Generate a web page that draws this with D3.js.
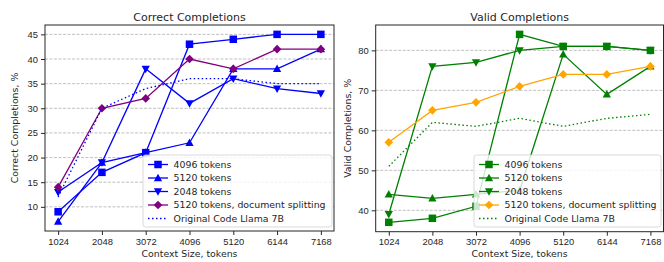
<!DOCTYPE html>
<html>
<head>
<meta charset="utf-8">
<script src="https://cdn.jsdelivr.net/npm/d3@7"></script>
<style>
  body { margin: 0; background: #fff; }
  svg { font-family: "DejaVu Sans", sans-serif; }
  .tick text { font-size: 9.4px; fill: #262626; }
  .tick line { stroke: #262626; }
</style>
</head>
<body>
<div id="chart"></div>
<script>
(function(){

  var contexts = [1024, 2048, 3072, 4096, 5120, 6144, 7168];
  var seriesNames = ['4096 tokens', '5120 tokens', '2048 tokens', '5120 tokens, document splitting', 'Original Code Llama 7B'];

  // Correct completions, %
  var correct4096 = [9, 17, 21, 43, 44, 45, 45];
  var correct5120 = [7, 19, 21, 23, 38, 38, 42];
  var correct2048 = [13, 19, 38, 31, 36, 34, 33];
  var correctSplit = [14, 30, 32, 40, 38, 42, 42];
  var correctOrig = [12, 30, 34, 36, 36, 35, 35];
  var correctTicks = [10, 15, 20, 25, 30, 35, 40, 45];

  // Valid completions, %
  var valid4096 = [37, 38, 41, 84, 81, 81, 80];
  var valid5120 = [44, 43, 44, 45, 79, 69, 76];
  var valid2048 = [39, 76, 77, 80, 81, 81, 80];
  var validSplit = [57, 65, 67, 71, 74, 74, 76];
  var validOrig = [51, 62, 61, 63, 61, 63, 64];
  var validTicks = [40, 50, 60, 70, 80];

  var svg = d3.select('#chart')
    .append('svg')
    .attr('width', 664)
    .attr('height', 262);

  function markerPath(type, s) {
    var h = s / 2;
    if (type === 'square') return 'M' + (-h) + ',' + (-h) + 'h' + s + 'v' + s + 'h' + (-s) + 'Z';
    if (type === 'up') return 'M0,' + (-h * 1.15) + 'L' + (h * 1.1) + ',' + (h * 0.85) + 'L' + (-h * 1.1) + ',' + (h * 0.85) + 'Z';
    if (type === 'down') return 'M0,' + (h * 1.15) + 'L' + (h * 1.1) + ',' + (-h * 0.85) + 'L' + (-h * 1.1) + ',' + (-h * 0.85) + 'Z';
    if (type === 'diamond') return 'M0,' + (-h * 1.15) + 'L' + (h * 1.15) + ',0L0,' + (h * 1.15) + 'L' + (-h * 1.15) + ',0Z';
    return '';
  }

  function panel(opts) {
    var x = d3.scaleLinear().domain([716.8, 7475.2]).range([opts.left, opts.right]);
    var y = d3.scaleLinear().domain(opts.yDomain).range([opts.bottom, 25]);
    var g = svg.append('g');

    // grid
    g.selectAll('line.grid')
      .data(opts.yTicks)
      .enter()
      .append('line')
      .attr('x1', opts.left)
      .attr('x2', opts.right)
      .attr('y1', function(d) {return y(d);})
      .attr('y2', function(d) {return y(d);})
      .attr('stroke', '#b0b0b0')
      .attr('stroke-width', 0.8)
      .attr('stroke-dasharray', '3,1.5');

    var line = d3.line()
      .x(function(d, i) {return x(contexts[i]);})
      .y(function(d) {return y(d);});

    opts.series.forEach(function(s) {
      g.append('path')
        .datum(s.values)
        .attr('d', line)
        .attr('fill', 'none')
        .attr('stroke', s.color)
        .attr('stroke-width', 1.3)
        .attr('stroke-dasharray', s.dotted ? '1.5,2.5' : null);
      if (s.marker) {
        g.selectAll(null)
          .data(s.values)
          .enter()
          .append('path')
          .attr('transform', function(d, i) {return 'translate(' + x(contexts[i]) + ',' + y(d) + ')';})
          .attr('d', markerPath(s.marker, 7.5))
          .attr('fill', s.color);
      }
    });

    // axes
    g.append('g')
      .attr('transform', 'translate(0,' + opts.bottom + ')')
      .call(d3.axisBottom(x).tickValues(contexts).tickSize(4).tickPadding(3).tickFormat(d3.format('d')))
      .call(function(a) {a.select('.domain').remove();});
    g.append('g')
      .attr('transform', 'translate(' + opts.left + ',0)')
      .call(d3.axisLeft(y).tickValues(opts.yTicks).tickSize(4).tickPadding(3))
      .call(function(a) {a.select('.domain').remove();});

    g.append('rect')
      .attr('x', opts.left)
      .attr('y', 25)
      .attr('width', opts.right - opts.left)
      .attr('height', opts.bottom - 25)
      .attr('fill', 'none')
      .attr('stroke', '#262626')
      .attr('stroke-width', 1);

    g.append('text')
      .attr('x', (opts.left + opts.right) / 2)
      .attr('y', 20.5)
      .attr('text-anchor', 'middle')
      .attr('font-size', 11)
      .attr('fill', '#262626')
      .text(opts.title);

    g.append('text')
      .attr('x', (opts.left + opts.right) / 2)
      .attr('y', 257)
      .attr('text-anchor', 'middle')
      .attr('font-size', 9.4)
      .attr('fill', '#262626')
      .text('Context Size, tokens');

    g.append('text')
      .attr('transform', 'translate(' + opts.yLabelX + ',' + ((25 + opts.bottom) / 2) + ') rotate(-90)')
      .attr('text-anchor', 'middle')
      .attr('font-size', 9.4)
      .attr('fill', '#262626')
      .text(opts.yLabel);

    // legend
    var lg = g.append('g').attr('transform', 'translate(' + opts.legendX + ',155)');
    lg.append('rect')
      .attr('width', opts.legendW)
      .attr('height', 72)
      .attr('rx', 2.5)
      .attr('fill', '#fff')
      .attr('fill-opacity', 0.8)
      .attr('stroke', '#d0d0d0')
      .attr('stroke-width', 0.8);
    opts.series.forEach(function(s, i) {
      var ly = 9.5 + i * 13.5;
      lg.append('line')
        .attr('x1', 5)
        .attr('x2', 25)
        .attr('y1', ly)
        .attr('y2', ly)
        .attr('stroke', s.color)
        .attr('stroke-width', 1.3)
        .attr('stroke-dasharray', s.dotted ? '1.5,2.5' : null);
      if (s.marker) {
        lg.append('path')
          .attr('transform', 'translate(15,' + ly + ')')
          .attr('d', markerPath(s.marker, 7.5))
          .attr('fill', s.color);
      }
      lg.append('text')
        .attr('x', 30.5)
        .attr('y', ly + 3.4)
        .attr('font-size', 9.4)
        .attr('fill', '#262626')
        .text(seriesNames[i]);
    });
  }

  panel({
    left: 45, right: 334, bottom: 231,
    yDomain: [5.1, 46.9], yTicks: correctTicks,
    title: 'Correct Completions', yLabel: 'Correct Completions, %', yLabelX: 18,
    legendX: 143, legendW: 189,
    series: [
      {values: correct4096, color: 'blue', marker: 'square'},
      {values: correct5120, color: 'blue', marker: 'up'},
      {values: correct2048, color: 'blue', marker: 'down'},
      {values: correctSplit, color: 'purple', marker: 'diamond'},
      {values: correctOrig, color: 'blue', dotted: true}
    ]
  });

  panel({
    left: 375.7, right: 663.5, bottom: 231.7,
    yDomain: [34.65, 86.35], yTicks: validTicks,
    title: 'Valid Completions', yLabel: 'Valid Completions, %', yLabelX: 351,
    legendX: 474, legendW: 187,
    series: [
      {values: valid4096, color: 'green', marker: 'square'},
      {values: valid5120, color: 'green', marker: 'up'},
      {values: valid2048, color: 'green', marker: 'down'},
      {values: validSplit, color: 'orange', marker: 'diamond'},
      {values: validOrig, color: 'green', dotted: true}
    ]
  });

})();
</script>
</body>
</html>
